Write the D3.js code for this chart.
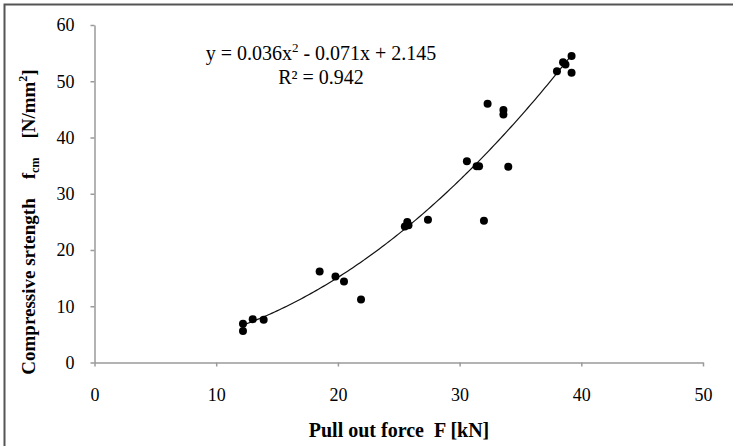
<!DOCTYPE html>
<html>
<head>
<meta charset="utf-8">
<script src="https://cdn.jsdelivr.net/npm/d3@7"></script>
<style>
  body { margin: 0; background: #fff; }
  text { font-family: "Liberation Serif", "Times New Roman", serif; white-space: pre; }
</style>
</head>
<body>
<svg id="chart" width="733" height="446"></svg>
<script>
// pull out force F [kN]
const pullOut = [12.2, 12.2, 13.0, 13.9, 18.5, 19.8, 20.5, 21.9, 25.5, 25.7, 25.8,
  27.4, 30.6, 31.4, 31.6, 32.3, 32.0, 33.6, 33.6, 34.0, 38.0, 38.5, 38.7, 39.2, 39.2];
// compressive strength fcm [N/mm2]
const strength = [6.9, 5.6, 7.7, 7.6, 16.2, 15.3, 14.4, 11.2, 24.2, 25.0, 24.4,
  25.4, 35.8, 34.9, 34.9, 46.0, 25.2, 44.9, 44.1, 34.8, 51.8, 53.4, 53.0, 54.5, 51.5];
// trendline coefficients y = a x^2 + b x + c
const coef = [0.036, -0.071, 2.145];
const xTicks = [0, 10, 20, 30, 40, 50];
const yTicks = [0, 10, 20, 30, 40, 50, 60];

const svg = d3.select('#chart');
const axisColor = '#9a9a9a';

// outer frame (only left/top edges fall inside the picture)
svg.append('rect')
  .attr('x', 4.5).attr('y', 4.5).attr('width', 740).attr('height', 460)
  .attr('fill', 'none').attr('stroke', '#555').attr('stroke-width', 2);

const x = d3.scaleLinear().domain([0, 50]).range([94.5, 703]);
const y = d3.scaleLinear().domain([0, 60]).range([362.5, 25]);

// x axis
const gx = svg.append('g').attr('transform', `translate(0,${y(0)})`)
  .call(d3.axisBottom(x).tickValues(xTicks).tickSizeInner(4).tickSizeOuter(0).tickPadding(22));
// y axis
const gy = svg.append('g').attr('transform', `translate(${x(0)},0)`)
  .call(d3.axisLeft(y).tickValues(yTicks).tickSizeInner(4).tickSizeOuter(0).tickPadding(16));

[gx, gy].forEach((g) => {
  g.select('.domain').attr('stroke', axisColor).attr('stroke-width', 1.5);
  g.selectAll('.tick line').attr('stroke', axisColor).attr('stroke-width', 1.5);
  g.selectAll('.tick text')
    .attr('fill', '#000')
    .style('font-family', '"Liberation Serif", serif')
    .style('font-size', '18px');
});

// trendline over the data range
const xs = d3.range(d3.min(pullOut), d3.max(pullOut) + 0.001, 0.2);
const line = d3.line()
  .x(d => x(d))
  .y(d => y(coef[0] * d * d + coef[1] * d + coef[2]))
  .curve(d3.curveBasis);
svg.append('path').datum(xs)
  .attr('d', line)
  .attr('fill', 'none')
  .attr('stroke', '#111')
  .attr('stroke-width', 1.2);

// points
svg.append('g').selectAll('circle')
  .data(pullOut.map((v, i) => [v, strength[i]]))
  .enter().append('circle')
  .attr('cx', d => x(d[0]))
  .attr('cy', d => y(d[1]))
  .attr('r', 4)
  .attr('fill', '#000');

// equation text
const eq = svg.append('text').attr('x', 321).attr('y', 60)
  .attr('text-anchor', 'middle').style('font-size', '20px');
eq.append('tspan').text('y = 0.036x');
eq.append('tspan').attr('dy', -8).style('font-size', '13px').text('2');
eq.append('tspan').attr('dy', 8).text(' - 0.071x + 2.145');

svg.append('text').attr('x', 321).attr('y', 84)
  .attr('text-anchor', 'middle').style('font-size', '20px')
  .text('R² = 0.942');

// axis titles
svg.append('text').attr('x', 399).attr('y', 437)
  .attr('text-anchor', 'middle')
  .style('font-size', '20px').style('font-weight', 'bold')
  .text('Pull out force  F [kN]');

const yt = svg.append('text')
  .attr('transform', 'translate(35,222) rotate(-90)')
  .attr('text-anchor', 'middle')
  .style('font-size', '19px').style('font-weight', 'bold');
yt.append('tspan').text('Compressive srtength    f');
yt.append('tspan').attr('dy', 4).style('font-size', '12px').text('cm');
yt.append('tspan').attr('dy', -4).text('    [N/mm');
yt.append('tspan').attr('dy', -8).style('font-size', '12px').text('2');
yt.append('tspan').attr('dy', 8).text(']');
</script>
</body>
</html>
